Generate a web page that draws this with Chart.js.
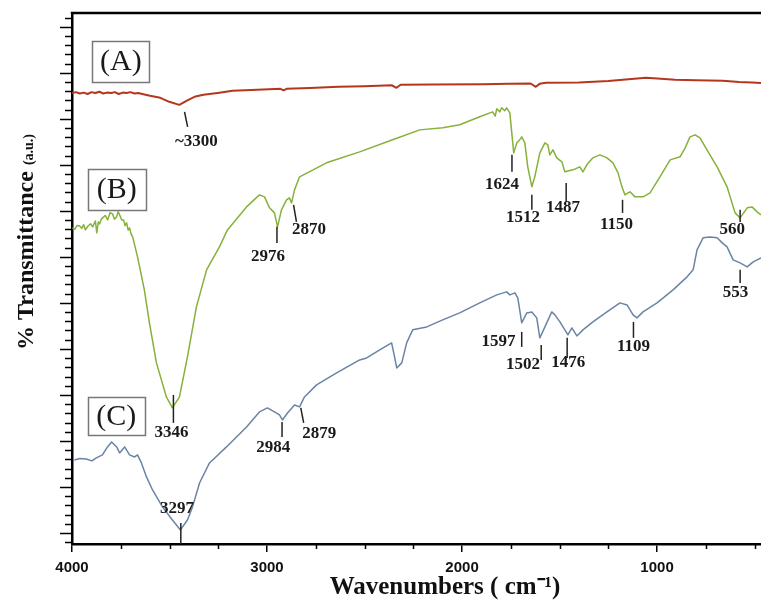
<!DOCTYPE html>
<html>
<head>
<meta charset="utf-8">
<title>FTIR spectra</title>
<script src="https://cdn.jsdelivr.net/npm/chart.js@4.4.1/dist/chart.umd.min.js"></script>
<style>
  html, body { margin: 0; padding: 0; background: #fff; }
</style>
</head>
<body>
<canvas id="irChart" width="761" height="603"></canvas>
<script>
// x axis: wavenumber (cm-1), reversed. y axis: transmittance, arbitrary units
const xTicks = [4000, 3000, 2000, 1000];
const xTitle = 'Wavenumbers ( cm\u207B\u00B9)';

// (A) red spectrum
const waveA = [4000, 3980, 3960, 3940, 3920, 3900, 3880, 3860, 3840, 3820, 3800, 3780, 3760, 3740, 3720, 3700, 3680, 3660, 3640,
  3600, 3547, 3501, 3450, 3413, 3372, 3326, 3244, 3177, 3050, 2931, 2915, 2900, 2780, 2633, 2500, 2361, 2336, 2315, 2150,
  1894, 1760, 1648, 1622, 1602, 1570, 1401, 1250, 1057, 980, 908, 800, 662, 580, 513, 467];
const transA = [47.8, 47.9, 47.75, 47.85, 47.7, 47.9, 47.8, 47.95, 47.75, 47.85, 47.8, 47.9, 47.7, 47.85, 47.8, 47.9, 47.75, 47.8, 47.7,
  47.5, 47.28, 46.85, 46.52, 46.96, 47.39, 47.61, 47.83, 48.04, 48.15, 48.26, 48.1, 48.26, 48.35, 48.48, 48.55, 48.65, 48.37, 48.7, 48.72,
  48.76, 48.8, 48.84, 48.48, 48.8, 48.91, 48.95, 49.1, 49.46, 49.35, 49.24, 49.2, 49.13, 49.0, 48.95, 48.9];

// (B) green spectrum
const waveB = [3998, 3985, 3975, 3962, 3950, 3940, 3931, 3920, 3905, 3894, 3880, 3873, 3865, 3858, 3850, 3843, 3830, 3817, 3805,
  3792, 3782, 3771, 3763, 3756, 3745, 3735, 3728, 3720, 3712, 3705, 3697, 3689, 3664, 3629, 3603, 3567, 3516, 3485, 3449,
  3408, 3362, 3310, 3244, 3203, 3105, 3039, 3013, 2987, 2962, 2946, 2926, 2900, 2885, 2874, 2859, 2833, 2695, 2525, 2356,
  2217, 2099, 2012, 1909, 1843, 1830, 1822, 1807, 1797, 1781, 1771, 1755, 1740, 1735, 1719, 1704, 1694, 1678, 1663, 1642,
  1627, 1601, 1575, 1560, 1550, 1534, 1514, 1488, 1473, 1431, 1396, 1380, 1360, 1329, 1293, 1257, 1226, 1200, 1180, 1165,
  1139, 1113, 1072, 1036, 985, 933, 882, 856, 831, 805, 780, 744, 692, 641, 600, 574, 538, 513, 487, 467];
const transB = [33.15, 33.0, 33.4, 33.37, 33.1, 33.5, 32.93, 33.3, 33.6, 33.26, 33.9, 32.61, 33.8, 33.59, 34.1, 34.24, 34.5, 34.02, 34.8,
  34.67, 34.1, 34.35, 34.9, 34.57, 34.0, 34.02, 33.4, 33.7, 32.9, 33.15, 32.5, 32.17, 30.0, 26.41, 22.83, 18.48, 14.78, 13.59, 14.78,
  19.13, 24.57, 28.59, 31.09, 32.93, 35.43, 36.74, 36.52, 35.33, 34.78, 33.26, 35.11, 36.2, 36.41, 35.87, 37.28, 38.7, 40.22, 41.41, 42.72,
  43.8, 44.02, 44.35, 45.22, 45.76, 45.3, 46.09, 45.76, 46.2, 45.87, 46.2, 45.65, 42.39, 41.3, 42.39, 42.72, 43.04, 42.39, 39.78, 37.61,
  38.7, 41.3, 42.39, 42.17, 41.09, 41.63, 40.76, 40.33, 39.24, 39.46, 39.78, 39.24, 40.0, 40.76, 41.09, 40.76, 40.22, 39.13, 37.61, 36.74,
  37.07, 36.52, 36.52, 36.96, 38.7, 40.54, 40.87, 41.85, 43.04, 43.26, 42.93, 41.63, 39.78, 37.61, 34.78, 34.24, 35.33, 35.43, 34.89, 34.57];

// (C) blue spectrum
const waveC = [3988, 3960, 3927, 3898, 3875, 3844, 3818, 3797, 3771, 3756, 3730, 3705, 3679, 3664, 3644, 3618, 3587, 3536, 3485,
  3444, 3408, 3382, 3346, 3295, 3208, 3105, 3039, 2998, 2962, 2936, 2921, 2895, 2859, 2833, 2808, 2746, 2643, 2525, 2489,
  2422, 2361, 2346, 2335, 2309, 2284, 2253, 2181, 2099, 2012, 1909, 1822, 1771, 1755, 1729, 1714, 1694, 1668, 1642, 1617,
  1601, 1575, 1540, 1524, 1498, 1473, 1457, 1437, 1411, 1380, 1329, 1257, 1190, 1154, 1123, 1103, 1072, 1000, 918, 846,
  815, 795, 764, 728, 692, 666, 641, 610, 574, 538, 507, 467];
const transC = [7.93, 8.1, 8.04, 7.83, 8.15, 8.48, 9.35, 9.89, 9.35, 8.7, 9.35, 8.48, 8.26, 8.48, 7.61, 6.09, 4.67, 2.83, 1.41,
  0.33, 1.41, 2.83, 5.43, 7.61, 9.35, 11.52, 13.15, 13.59, 13.15, 12.83, 12.28, 13.04, 13.91, 13.7, 14.78, 16.09, 17.39, 18.8, 19.02,
  19.89, 20.65, 19.13, 17.93, 18.48, 20.65, 22.07, 22.39, 23.15, 23.91, 25.0, 25.87, 26.2, 25.87, 26.09, 25.54, 22.83, 23.91, 24.02, 23.37,
  21.2, 22.39, 24.02, 23.7, 22.93, 22.07, 21.52, 22.28, 21.41, 22.07, 22.93, 24.02, 25.0, 24.78, 23.7, 23.37, 24.02, 25.0, 26.41, 27.83,
  28.59, 30.76, 32.07, 32.17, 32.07, 31.52, 31.09, 29.67, 29.35, 28.91, 29.46, 29.89];

// peak annotations: text, text anchor (wave, T), marker line from (w1, t1) to (w2, t2)
const peakText = ['~3300', '3346', '2976', '2870', '1624', '1512', '1487', '1150', '560',
  '1597', '1502', '1476', '1109', '553', '2984', '2879', '3297'];
const peakTextWave = [3362, 3490, 2995, 2785, 1795, 1687, 1482, 1208, 614, 1813, 1687, 1456, 1121, 598, 2968, 2732, 3462];
const peakTextT = [42.5, 10.87, 30.0, 32.93, 37.83, 34.24, 35.33, 33.48, 32.93, 20.76, 18.26, 18.48, 20.22, 26.09, 9.24, 10.76, 2.61];
const markW1 = [3423, 3480, 2949, 2864, 1744, 1642, 1466, 1177, 574, 1694, 1594, 1461, 1121, 574, 2923, 2827, 3442];
const markT1 = [45.76, 15.0, 33.26, 35.65, 41.09, 36.74, 38.04, 36.2, 35.11, 21.85, 20.43, 21.2, 22.93, 28.59, 12.07, 13.59, 1.09];
const markW2 = [3407, 3480, 2949, 2849, 1744, 1642, 1466, 1177, 574, 1694, 1594, 1461, 1121, 574, 2923, 2812, 3442];
const markT2 = [44.13, 11.96, 31.52, 33.8, 39.24, 35.11, 35.98, 34.78, 33.8, 20.22, 18.8, 19.02, 21.2, 27.17, 10.43, 11.96, -1.2];

// sample tags in boxes
const boxText = ['(A)', '(B)', '(C)'];
const boxWave1 = [3896, 3920, 3920];
const boxWave2 = [3603, 3622, 3626];
const boxT1 = [53.48, 39.57, 14.78];
const boxT2 = [49.02, 35.11, 10.65];

const toXY = (ws, ts) => ws.map((w, i) => ({x: w, y: ts[i]}));

// frame, minor ticks, axis titles, boxes and peak labels
const decor = {
    id: 'decor',
    afterDraw(chart) {
        const {ctx, chartArea: a, scales: {x, y}} = chart;
        ctx.save();
        ctx.strokeStyle = '#000';
        ctx.lineWidth = 2.5;
        ctx.beginPath();
        ctx.moveTo(a.left - 1.25, a.top);
        ctx.lineTo(a.right, a.top);
        ctx.stroke();

        ctx.lineWidth = 1.5;
        for (let k = -1; k <= 56; k++) {
            const py = Math.round(y.getPixelForValue(k)) + 0.5;
            const len = k % 5 === 0 ? 12 : 7;
            ctx.beginPath();
            ctx.moveTo(a.left - len, py);
            ctx.lineTo(a.left, py);
            ctx.stroke();
        }
        for (let w = 500; w < 4000; w += 250) {
            if (w % 1000 === 0) continue;
            const px = Math.round(x.getPixelForValue(w)) + 0.5;
            ctx.beginPath();
            ctx.moveTo(px, a.bottom);
            ctx.lineTo(px, a.bottom + 5);
            ctx.stroke();
        }

        // x title (sits right of centre in the original)
        ctx.fillStyle = '#111';
        ctx.font = 'bold 25px "Liberation Serif"';
        ctx.textAlign = 'center';
        ctx.textBaseline = 'alphabetic';
        ctx.fillText(xTitle, 445, 594);

        // y title, two font sizes
        ctx.save();
        ctx.translate(23, 242);
        ctx.rotate(-Math.PI / 2);
        ctx.textAlign = 'left';
        const big = 'bold 24px "Liberation Serif"';
        const small = 'bold 14px "Liberation Serif"';
        ctx.font = big;
        const w1 = ctx.measureText('% Transmittance ').width;
        ctx.font = small;
        const w2 = ctx.measureText('(a.u.)').width;
        const start = -(w1 + w2) / 2;
        ctx.font = big;
        ctx.fillText('% Transmittance ', start, 10);
        ctx.font = small;
        ctx.fillText('(a.u.)', start + w1, 10);
        ctx.restore();

        // boxes
        ctx.lineWidth = 1.5;
        ctx.strokeStyle = '#777';
        ctx.fillStyle = '#1a1a1a';
        ctx.font = '30px "Liberation Serif"';
        ctx.textAlign = 'center';
        ctx.textBaseline = 'middle';
        boxText.forEach((t, i) => {
            const x1 = x.getPixelForValue(boxWave1[i]), x2 = x.getPixelForValue(boxWave2[i]);
            const y1 = y.getPixelForValue(boxT1[i]), y2 = y.getPixelForValue(boxT2[i]);
            ctx.strokeRect(Math.round(x1) + 0.5, Math.round(y1) + 0.5, Math.round(x2 - x1), Math.round(y2 - y1));
            ctx.fillText(t, (x1 + x2) / 2, (y1 + y2) / 2 + 1);
        });

        // peak markers and labels
        ctx.strokeStyle = '#222';
        ctx.lineWidth = 1.5;
        ctx.font = 'bold 17px "Liberation Serif"';
        peakText.forEach((t, i) => {
            ctx.beginPath();
            ctx.moveTo(x.getPixelForValue(markW1[i]), y.getPixelForValue(markT1[i]));
            ctx.lineTo(x.getPixelForValue(markW2[i]), y.getPixelForValue(markT2[i]));
            ctx.stroke();
            ctx.fillText(t, x.getPixelForValue(peakTextWave[i]), y.getPixelForValue(peakTextT[i]));
        });
        ctx.restore();
    }
};

const ctx = document.getElementById('irChart');

new Chart(ctx, {
    type: 'line',
    data: {
        datasets: [
            {label: 'A', data: toXY(waveA, transA), borderColor: '#b5361f', borderWidth: 2},
            {label: 'B', data: toXY(waveB, transB), borderColor: '#86b13a', borderWidth: 1.5},
            {label: 'C', data: toXY(waveC, transC), borderColor: '#6a84a6', borderWidth: 1.5}
        ]
    },
    options: {
        responsive: false,
        animation: false,
        devicePixelRatio: 1,
        layout: {padding: {top: 13, left: 0, right: 0, bottom: 0}},
        elements: {point: {radius: 0}, line: {tension: 0, borderJoinStyle: 'round'}},
        plugins: {legend: {display: false}, tooltip: {enabled: false}},
        scales: {
            x: {
                type: 'linear',
                reverse: true,
                min: 467,
                max: 4000,
                afterBuildTicks: s => { s.ticks = xTicks.map(v => ({value: v})); },
                afterFit: s => { s.height = 59; },
                grid: {drawOnChartArea: false, drawTicks: true, tickLength: 8, color: '#000', lineWidth: 1.5},
                border: {display: true, color: '#000', width: 2.5},
                ticks: {
                    callback: v => String(v),
                    autoSkip: false,
                    maxRotation: 0,
                    padding: 7,
                    color: '#111',
                    font: {family: '"Liberation Sans"', size: 15, weight: 'bold'}
                },
                title: {display: false}
            },
            y: {
                min: -1.2,
                max: 56.5,
                afterFit: s => { s.width = 72; },
                grid: {display: false},
                border: {display: true, color: '#000', width: 2.5},
                ticks: {display: false}
            }
        }
    },
    plugins: [decor]
});
</script>
</body>
</html>
